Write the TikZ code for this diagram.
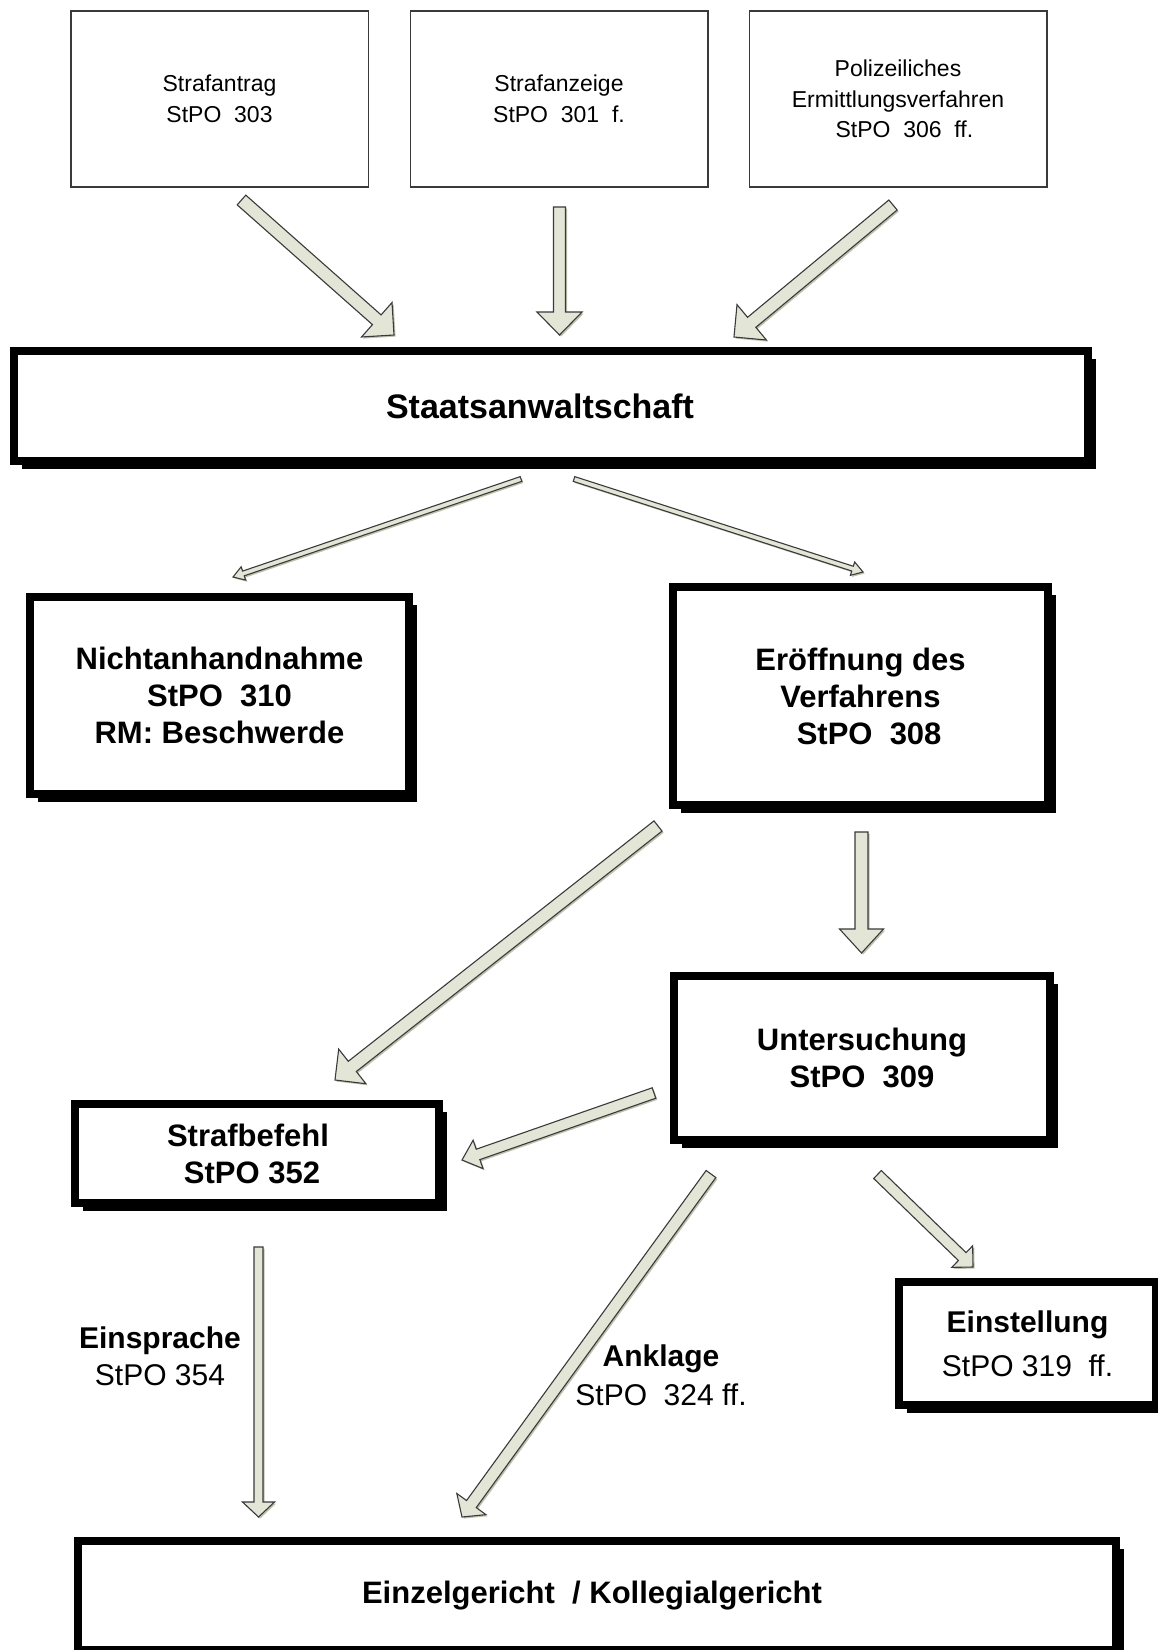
\documentclass[tikz,border=0pt]{standalone}
\usepackage{fontspec}
\setmainfont{Liberation Sans}
\usetikzlibrary{calc,shadows}
\definecolor{arrfill}{HTML}{E3E5D6}
\definecolor{arrline}{HTML}{3A3A3A}
\definecolor{arrshadow}{HTML}{BFC2AE}
\newcommand\blockarrow[5]{%
  \coordinate (ba-h) at ($(#2)!#5!(#1)$);
  \coordinate (ba-1) at ($(#1)!#3!90:(#2)$);
  \coordinate (ba-2) at ($(ba-h)!#3!90:(#2)$);
  \coordinate (ba-3) at ($(ba-h)!#4!90:(#2)$);
  \coordinate (ba-4) at ($(ba-h)!#4!-90:(#2)$);
  \coordinate (ba-5) at ($(ba-h)!#3!-90:(#2)$);
  \coordinate (ba-6) at ($(#1)!#3!-90:(#2)$);
  \fill[arrshadow, transform canvas={shift={(1.6pt,-1.6pt)}}] (ba-1) -- (ba-2) -- (ba-3) -- (#2) -- (ba-4) -- (ba-5) -- (ba-6) -- cycle;
  \filldraw[blockarr] (ba-1) -- (ba-2) -- (ba-3) -- (#2) -- (ba-4) -- (ba-5) -- (ba-6) -- cycle;
}
\begin{document}
\begin{tikzpicture}[x=1pt,y=-1pt,
  blockarr/.style={fill=arrfill, draw=arrline, line width=1.1pt, line join=miter},
  thinbox/.style={draw=arrline, line width=1.5pt, minimum width=297.5pt, minimum height=176pt,
    inner sep=0pt, align=center, font=\fontsize{23}{30.5}\selectfont},
  thickbox/.style={draw=black, fill=white, line width=8pt, inner sep=0pt, align=center,
    font=\fontsize{31}{37}\selectfont\bfseries,
    drop shadow={shadow xshift=8pt, shadow yshift=-8pt, opacity=1, fill=black}},
  lbl/.style={inner sep=0pt, align=center, font=\fontsize{30}{38}\selectfont}
]
\fill[white] (0,0) rectangle (1158,1650);
\useasboundingbox (0,0) rectangle (1158,1650);

% top boxes
\node[thinbox] (antrag) at (219.5,99) {Strafantrag\\ StPO\ \ 303};
\node[thinbox] (anzeige) at (559,99) {Strafanzeige\\ StPO\ \ 301\ \ f.};
\node[thinbox] (polizei) at (898,99) {Polizeiliches\\Ermittlungsverfahren\\ \ \ StPO\ \ 306\ \ ff.};

% thick boxes
\node[thickbox, minimum width=1074pt, minimum height=110pt, font=\fontsize{34}{40}\selectfont\bfseries] (staats) at (551,406) {\hspace*{-22pt}Staatsanwaltschaft};
\node[thickbox, minimum width=379pt, minimum height=197pt] (nicht) at (219.5,695.5) {Nichtanhandnahme\\StPO\ \ 310\\RM: Beschwerde};
\node[thickbox, minimum width=375pt, minimum height=218pt] (eroeff) at (860.5,696) {Eröffnung des\\Verfahrens\\\ \ StPO\ \ 308};
\node[thickbox, minimum width=376pt, minimum height=164pt] (unters) at (862,1058) {Untersuchung\\StPO\ \ 309};
\node[thickbox, minimum width=364.5pt, minimum height=99pt] (strafb) at (257,1153.5) {\hspace*{-18pt}Strafbefehl\\\hspace*{-10pt}StPO\ 352};
\node[thickbox, minimum width=257pt, minimum height=123pt, font=\fontsize{30}{44}\selectfont\bfseries] (einst) at (1027.5,1343.5) {Einstellung\\{\mdseries StPO 319\ \ ff.}};
\node[thickbox, minimum width=1038pt, minimum height=109pt] (einzel) at (597,1595.5) {\hspace*{-10pt}Einzelgericht\ \ / Kollegialgericht};

% labels
\node[lbl, font=\fontsize{30}{37}\selectfont] (einspr) at (160,1356.5) {\textbf{Einsprache}\\StPO 354};
\node[lbl, font=\fontsize{30}{39}\selectfont] (ankl) at (661,1375.5) {\textbf{Anklage}\\StPO\ \ 324\ ff.};

% arrow end points
\coordinate (a1t) at (241.5,200);   \coordinate (a1p) at (394,335);
\coordinate (a2t) at (559.5,207);   \coordinate (a2p) at (559.5,335);
\coordinate (a3t) at (893,205);     \coordinate (a3p) at (734,337);
\coordinate (t1t) at (521,479);     \coordinate (t1p) at (233,577);
\coordinate (t2t) at (574,479);     \coordinate (t2p) at (863,572);
\coordinate (a4t) at (658,826);     \coordinate (a4p) at (335,1080);
\coordinate (a5t) at (861.5,832);   \coordinate (a5p) at (861.5,953);
\coordinate (a6t) at (654,1093);    \coordinate (a6p) at (462,1160);
\coordinate (a7t) at (711,1174);    \coordinate (a7p) at (462,1517);
\coordinate (a8t) at (877.5,1174.5);\coordinate (a8p) at (973,1267);
\coordinate (a9t) at (258.5,1247);  \coordinate (a9p) at (258.5,1517);

\blockarrow{a1t}{a1p}{6.5pt}{23pt}{23pt}
\blockarrow{a2t}{a2p}{6pt}{22.5pt}{23pt}
\blockarrow{a3t}{a3p}{6.5pt}{23pt}{23pt}
\blockarrow{t1t}{t1p}{2.5pt}{7pt}{11pt}
\blockarrow{t2t}{t2p}{2.5pt}{7pt}{11pt}
\blockarrow{a4t}{a4p}{6.5pt}{22pt}{22pt}
\blockarrow{a5t}{a5p}{6.5pt}{22pt}{24pt}
\blockarrow{a6t}{a6p}{5.5pt}{15pt}{17pt}
\blockarrow{a7t}{a7p}{6pt}{18pt}{16pt}
\blockarrow{a8t}{a8p}{5.5pt}{15pt}{15pt}
\blockarrow{a9t}{a9p}{4.5pt}{16pt}{15pt}
\end{tikzpicture}
\end{document}
